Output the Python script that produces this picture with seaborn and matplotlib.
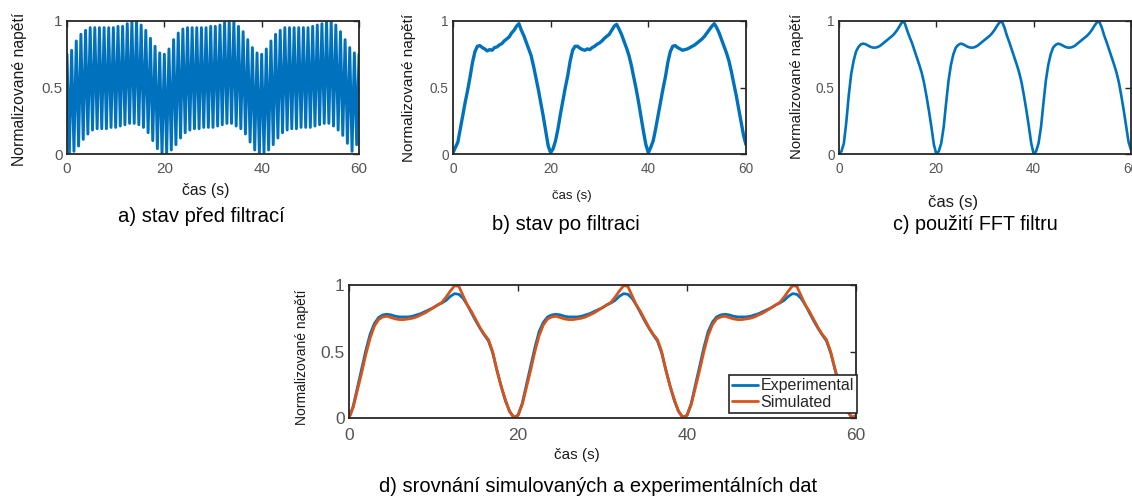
import numpy as np
import matplotlib
matplotlib.use("Agg")
import matplotlib.pyplot as plt
import seaborn as sns

# ---- data (normalised voltage vs time in s) ----

# a) raw signal: per-cycle peak and trough levels (~0.95 s carrier period)
raw_peaks = [
    0.75, 0.78, 0.85, 0.90, 0.93, 0.95, 0.95, 0.95, 0.95, 0.95, 0.95,
    0.96, 0.96, 0.98, 1.00, 1.00, 0.97, 0.93, 0.87, 0.81, 0.76,
    0.75, 0.79, 0.86, 0.91, 0.94, 0.95, 0.95, 0.95, 0.95, 0.95, 0.96,
    0.96, 0.97, 0.99, 1.00, 1.00, 0.96, 0.92, 0.86, 0.80, 0.76,
    0.75, 0.79, 0.85, 0.90, 0.93, 0.95, 0.95, 0.95, 0.95, 0.95, 0.95,
    0.96, 0.97, 0.98, 1.00, 1.00, 0.97, 0.92, 0.86, 0.80, 0.76,
    0.75,
]
raw_troughs = [
    0.00, 0.02, 0.06, 0.11, 0.15, 0.18, 0.19, 0.19, 0.19, 0.20, 0.20,
    0.21, 0.22, 0.23, 0.23, 0.22, 0.20, 0.16, 0.10, 0.04, 0.00,
    0.00, 0.03, 0.07, 0.12, 0.16, 0.18, 0.19, 0.19, 0.20, 0.20, 0.20,
    0.21, 0.22, 0.23, 0.23, 0.21, 0.19, 0.15, 0.09, 0.03, 0.00,
    0.01, 0.03, 0.07, 0.12, 0.16, 0.18, 0.19, 0.19, 0.20, 0.20, 0.20,
    0.21, 0.22, 0.23, 0.23, 0.21, 0.18, 0.14, 0.08, 0.02, 0.07,
]

# b) after filtering, sampled every 0.5 s
filtered = [
    0.01, 0.05, 0.09, 0.19, 0.29, 0.39, 0.48, 0.58, 0.69, 0.77,
    0.81, 0.815, 0.80, 0.79, 0.775, 0.785, 0.78, 0.80, 0.805, 0.82,
    0.83, 0.85, 0.865, 0.88, 0.91, 0.93, 0.96, 0.98, 0.93, 0.89,
    0.84, 0.79, 0.74, 0.66, 0.57, 0.48, 0.38, 0.28, 0.17, 0.06,
    0.01, 0.04, 0.10, 0.19, 0.30, 0.40, 0.50, 0.59, 0.70, 0.78,
    0.81, 0.81, 0.795, 0.785, 0.78, 0.79, 0.785, 0.80, 0.81, 0.825,
    0.835, 0.85, 0.87, 0.885, 0.90, 0.93, 0.96, 0.975, 0.94, 0.90,
    0.85, 0.80, 0.745, 0.67, 0.58, 0.49, 0.39, 0.28, 0.17, 0.07,
    0.01, 0.05, 0.10, 0.19, 0.29, 0.39, 0.49, 0.58, 0.69, 0.77,
    0.81, 0.815, 0.80, 0.79, 0.78, 0.785, 0.79, 0.80, 0.81, 0.82,
    0.835, 0.85, 0.865, 0.885, 0.91, 0.935, 0.96, 0.98, 0.95, 0.91,
    0.86, 0.81, 0.76, 0.70, 0.62, 0.53, 0.44, 0.34, 0.24, 0.14,
    0.07,
]

# c) FFT filter output, every 0.5 s
fft_filtered = [
    0.00, 0.02, 0.08, 0.24, 0.44, 0.60, 0.70, 0.77, 0.805, 0.825,
    0.83, 0.825, 0.815, 0.805, 0.80, 0.80, 0.805, 0.815, 0.83, 0.845,
    0.86, 0.875, 0.89, 0.91, 0.935, 0.965, 0.995, 0.985, 0.93, 0.88,
    0.835, 0.78, 0.725, 0.67, 0.61, 0.53, 0.43, 0.32, 0.20, 0.07,
    0.00, 0.02, 0.08, 0.20, 0.38, 0.55, 0.67, 0.75, 0.80, 0.82,
    0.83, 0.825, 0.815, 0.805, 0.80, 0.80, 0.805, 0.815, 0.83, 0.845,
    0.86, 0.875, 0.89, 0.91, 0.935, 0.965, 0.99, 0.995, 0.95, 0.89,
    0.84, 0.785, 0.73, 0.675, 0.615, 0.54, 0.44, 0.33, 0.21, 0.08,
    0.00, 0.02, 0.08, 0.20, 0.38, 0.55, 0.67, 0.75, 0.80, 0.82,
    0.83, 0.825, 0.815, 0.805, 0.80, 0.80, 0.805, 0.815, 0.83, 0.845,
    0.86, 0.875, 0.89, 0.91, 0.935, 0.965, 0.99, 0.995, 0.95, 0.89,
    0.84, 0.785, 0.73, 0.675, 0.615, 0.54, 0.44, 0.33, 0.21, 0.09,
    0.03,
]

# d) experimental vs simulated, every 0.5 s
experimental = [
    0.00, 0.09, 0.23, 0.37, 0.51, 0.63, 0.71, 0.755, 0.775, 0.78,
    0.775, 0.765, 0.76, 0.76, 0.76, 0.765, 0.775, 0.785, 0.80, 0.815,
    0.83, 0.85, 0.865, 0.885, 0.915, 0.935, 0.93, 0.90, 0.85, 0.79,
    0.73, 0.675, 0.625, 0.58, 0.49, 0.36, 0.24, 0.13, 0.05, 0.005,
    0.02, 0.11, 0.25, 0.39, 0.53, 0.65, 0.72, 0.76, 0.775, 0.78,
    0.775, 0.765, 0.76, 0.76, 0.76, 0.765, 0.775, 0.785, 0.80, 0.815,
    0.83, 0.85, 0.865, 0.885, 0.915, 0.935, 0.93, 0.90, 0.85, 0.79,
    0.73, 0.675, 0.625, 0.58, 0.49, 0.36, 0.24, 0.13, 0.05, 0.005,
    0.02, 0.11, 0.25, 0.39, 0.53, 0.65, 0.72, 0.76, 0.775, 0.78,
    0.775, 0.765, 0.76, 0.76, 0.76, 0.765, 0.775, 0.785, 0.80, 0.815,
    0.83, 0.85, 0.865, 0.885, 0.915, 0.935, 0.93, 0.90, 0.85, 0.79,
    0.73, 0.675, 0.625, 0.58, 0.49, 0.37, 0.25, 0.14, 0.05, 0.005,
    0.01,
]
simulated = [
    0.00, 0.08, 0.21, 0.34, 0.48, 0.60, 0.69, 0.74, 0.76, 0.765,
    0.755, 0.745, 0.74, 0.74, 0.745, 0.75, 0.76, 0.775, 0.79, 0.81,
    0.83, 0.85, 0.87, 0.91, 0.955, 0.995, 0.99, 0.92, 0.85, 0.80,
    0.74, 0.68, 0.63, 0.59, 0.50, 0.36, 0.24, 0.14, 0.05, 0.005,
    0.02, 0.10, 0.23, 0.36, 0.50, 0.62, 0.70, 0.745, 0.76, 0.765,
    0.755, 0.745, 0.74, 0.74, 0.745, 0.75, 0.76, 0.775, 0.79, 0.81,
    0.83, 0.85, 0.87, 0.91, 0.955, 0.995, 0.99, 0.92, 0.85, 0.80,
    0.74, 0.68, 0.63, 0.59, 0.50, 0.36, 0.24, 0.14, 0.05, 0.005,
    0.02, 0.10, 0.23, 0.36, 0.50, 0.62, 0.70, 0.745, 0.76, 0.765,
    0.755, 0.745, 0.74, 0.74, 0.745, 0.75, 0.76, 0.775, 0.79, 0.81,
    0.83, 0.85, 0.87, 0.91, 0.955, 0.995, 0.99, 0.92, 0.85, 0.80,
    0.74, 0.68, 0.63, 0.59, 0.50, 0.37, 0.25, 0.14, 0.05, 0.005,
    0.02,
]

x_ticks = [0, 20, 40, 60]
y_ticks = [0, 0.5, 1]
y_ticklabels = ["0", "0.5", "1"]
y_label = "Normalizované napětí"
x_label = "čas (s)"
captions = [
    "a) stav před filtrací",
    "b) stav po filtraci",
    "c) použití FFT filtru",
    "d) srovnání simulovaných a experimentálních dat",
]
series_names = ["Experimental", "Simulated"]

BLUE = "#0072BD"
ORANGE = "#D95319"
W, H = 1132, 497


def frac(x, y):
    return x / W, 1 - y / H


def add_axes(fig, left, top, right, bottom):
    x0, y1 = frac(left, top)
    x1, y0 = frac(right, bottom)
    return fig.add_axes([x0, y0, x1 - x0, y1 - y0])


def style_axes(ax, tick_size, xpad):
    ax.set_xlim(0, 60)
    ax.set_ylim(0, 1)
    ax.set_xticks(x_ticks)
    ax.set_yticks(y_ticks)
    ax.set_yticklabels(y_ticklabels)
    ax.set_xlabel("")
    ax.set_ylabel("")
    ax.tick_params(direction="in", length=4, width=1.0, colors="#262626",
                   labelcolor="#555555", labelsize=tick_size,
                   top=True, right=True)
    ax.tick_params(axis="x", pad=xpad)
    ax.tick_params(axis="y", pad=3)
    for spine in ax.spines.values():
        spine.set_color("#262626")
        spine.set_linewidth(1.3)


def label(fig, x, y, text, size, rotation=0, color="#1a1a1a"):
    fx, fy = frac(x, y)
    fig.text(fx, fy, text, fontsize=size, rotation=rotation, color=color,
             ha="center", va="center")


sns.set_theme(style="white")
plt.rcParams["font.family"] = ["Liberation Sans", "DejaVu Sans"]

fig = plt.figure(figsize=(W / 100, H / 100), dpi=100)

# a) raw signal: alternate peak / trough
raw_values = np.empty(len(raw_peaks) + len(raw_troughs))
raw_values[0::2] = raw_peaks
raw_values[1::2] = raw_troughs
raw_t = np.linspace(0, 60, len(raw_values))
ax_a = add_axes(fig, 67, 21, 359, 154)
sns.lineplot(x=raw_t, y=raw_values, ax=ax_a, color=BLUE, linewidth=2.1)
style_axes(ax_a, 11, 6)

t_half = np.linspace(0, 60, len(filtered))

ax_b = add_axes(fig, 453, 21, 746, 154)
sns.lineplot(x=t_half, y=filtered, ax=ax_b, color=BLUE, linewidth=2.4)
style_axes(ax_b, 9.8, 6)

ax_c = add_axes(fig, 839, 21, 1131, 154)
sns.lineplot(x=t_half, y=fft_filtered, ax=ax_c, color=BLUE, linewidth=1.9)
style_axes(ax_c, 9.8, 6)

ax_d = add_axes(fig, 349, 285, 856, 418)
sns.lineplot(x=t_half, y=experimental, ax=ax_d, color=BLUE, linewidth=2.0,
             label=series_names[0])
sns.lineplot(x=t_half, y=simulated, ax=ax_d, color=ORANGE, linewidth=2.0,
             label=series_names[1])
style_axes(ax_d, 12.5, 7)
lx, ly = frac(857, 413)
leg = ax_d.legend(loc="lower right", bbox_to_anchor=(lx, ly),
                  bbox_transform=fig.transFigure, fontsize=11.5,
                  frameon=True, fancybox=False, framealpha=1,
                  edgecolor="#262626", handlelength=1.6, handletextpad=0.15,
                  borderpad=0.2, labelspacing=0.1, borderaxespad=0)
leg.get_frame().set_linewidth(1.2)

# axis labels and captions
label(fig, 20, 89, y_label, 11.3, rotation=90)
label(fig, 206, 191, x_label, 11.3)
label(fig, 201, 217, captions[0], 14.6, color="black")

label(fig, 409, 88, y_label, 11.0, rotation=90)
label(fig, 572, 196, x_label, 9.5)
label(fig, 566, 224, captions[1], 14.6, color="black")

label(fig, 797, 86, y_label, 10.7, rotation=90)
label(fig, 953, 203, x_label, 12)
label(fig, 975, 225, captions[2], 14.2, color="black")

label(fig, 302, 357, y_label, 10.0, rotation=90)
label(fig, 577, 455, x_label, 11)
label(fig, 598, 486, captions[3], 14.5, color="black")

fig.savefig("out.png", dpi=100)
